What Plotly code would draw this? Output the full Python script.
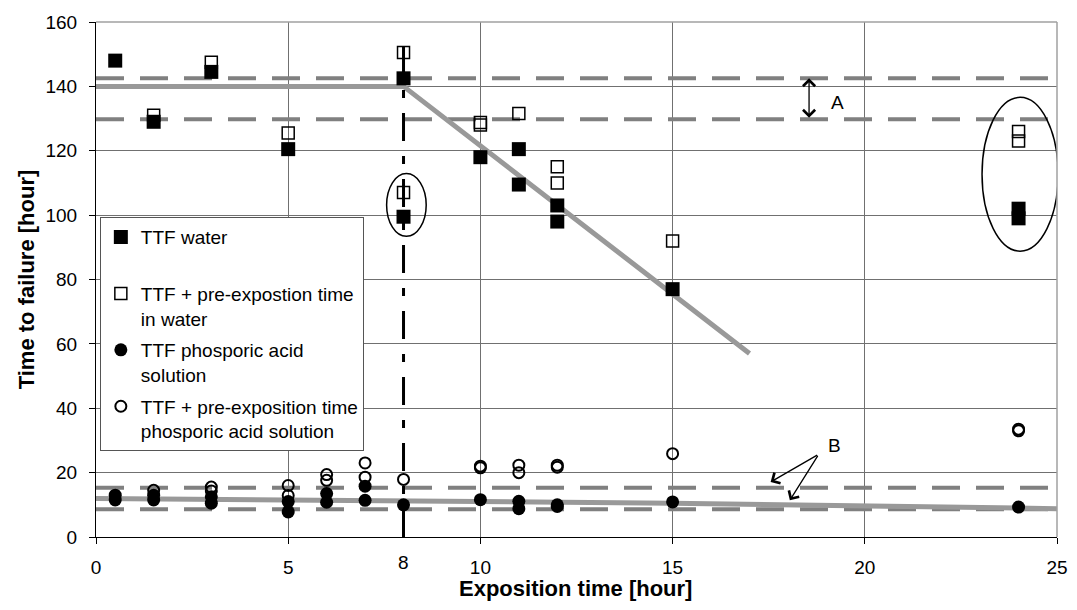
import plotly.graph_objects as go

# ---------------- data ----------------
water_x = [0.5, 1.5, 3, 5, 8, 8, 10, 11, 11, 12, 12, 15, 24, 24]
water_y = [148, 129, 144.5, 120.5, 142.5, 99.5, 118, 120.5, 109.5, 103, 98, 77, 102, 99]

prew_x = [1.5, 3, 5, 8, 8, 10, 10, 11, 12, 12, 15, 24, 24]
prew_y = [131, 147.5, 125.5, 150.5, 107, 128, 128.8, 131.6, 115, 110, 92, 126, 123]

acid_x = [0.5, 0.5, 1.5, 1.5, 3, 3, 5, 5, 6, 6, 7, 7, 8, 10, 11, 11, 12, 12, 15, 24]
acid_y = [13, 11.5, 13, 11.5, 12.5, 10.5, 11, 7.8, 13.5, 10.8, 15.8, 11.4, 10, 11.6, 11.1, 8.8, 10, 9.5, 10.9, 9.3]

preacid_x = [1.5, 3, 3, 5, 5, 6, 6, 7, 7, 8, 10, 10, 11, 11, 12, 12, 15, 24, 24]
preacid_y = [14.5, 15.5, 14.3, 16, 12.9, 19.4, 17.6, 23, 18.6, 17.9, 21.5, 22, 22.3, 20, 22.3, 21.7, 25.9, 33, 33.5]

fit_water_x = [0, 8, 17]
fit_water_y = [140, 140, 57]
fit_acid_x = [0, 8, 15, 25]
fit_acid_y = [12, 11, 10.5, 8.8]

band_a = [142.5, 129.8]
band_b = [15.3, 8.6]
band_x = [0, 25]

vline_x = [8, 8]
vline_y = [0, 155]

x_ticks = [0, 5, 10, 15, 20, 25]
y_ticks = [0, 20, 40, 60, 80, 100, 120, 140, 160]

names = ["TTF water<br>\u00a0",
         "TTF + pre-expostion time<br>in water",
         "TTF phosporic acid<br>solution",
         "TTF + pre-exposition time<br>phosporic acid solution"]

FONT = "Arial, Liberation Sans, sans-serif"

fig = go.Figure()

# band dashed lines
for yv in band_a + band_b:
    fig.add_trace(go.Scatter(x=band_x, y=[yv, yv], mode="lines",
                             line=dict(color="#808080", width=4, dash="28px,16px"),
                             showlegend=False, hoverinfo="skip"))
# trend lines
fig.add_trace(go.Scatter(x=fit_water_x, y=fit_water_y, mode="lines",
                         line=dict(color="#999999", width=5), showlegend=False))
fig.add_trace(go.Scatter(x=fit_acid_x, y=fit_acid_y, mode="lines",
                         line=dict(color="#999999", width=5), showlegend=False))
# vertical dash-dot line
fig.add_trace(go.Scatter(x=vline_x, y=vline_y, mode="lines",
                         line=dict(color="black", width=3, dash="28px,15px,8px,15px"),
                         showlegend=False))

# open markers first
fig.add_trace(go.Scatter(x=prew_x, y=prew_y, mode="markers", name=names[1],
                         legendrank=2, legendgroup="b",
                         marker=dict(symbol="square-open", size=12, color="black",
                                     line=dict(width=1.5))))
fig.add_trace(go.Scatter(x=preacid_x, y=preacid_y, mode="markers", name=names[3],
                         legendrank=4, legendgroup="d",
                         marker=dict(symbol="circle-open", size=11, color="black",
                                     line=dict(width=2))))
fig.add_trace(go.Scatter(x=water_x, y=water_y, mode="markers", name=names[0],
                         legendrank=1, legendgroup="a",
                         marker=dict(symbol="square", size=14, color="black")))
fig.add_trace(go.Scatter(x=acid_x, y=acid_y, mode="markers", name=names[2],
                         legendrank=3, legendgroup="c",
                         marker=dict(symbol="circle", size=13, color="black")))

# ellipses
fig.add_shape(type="circle", xref="x", yref="y", x0=7.56, x1=8.59, y0=93.4, y1=112.9,
              line=dict(color="black", width=1.5))
fig.add_shape(type="circle", xref="x", yref="y", x0=23.05, x1=25.03, y0=88.8, y1=136.6,
              line=dict(color="black", width=1.5))
# top / right border
fig.add_shape(type="line", xref="paper", yref="paper", x0=0, x1=1, y0=1, y1=1,
              line=dict(color="#a0a0a0", width=1.5))
fig.add_shape(type="line", xref="paper", yref="paper", x0=1, x1=1, y0=0, y1=1,
              line=dict(color="#a0a0a0", width=1.5))

# arrows
fig.add_annotation(x=18.55, y=142.5, ax=18.55, ay=129.8, xref="x", yref="y",
                   axref="x", ayref="y", text="", showarrow=True,
                   arrowside="end+start", arrowhead=4, startarrowhead=4,
                   arrowwidth=1.3, arrowsize=1.8, startarrowsize=1.8,
                   arrowcolor="black", standoff=0, startstandoff=0)
fig.add_annotation(x=19.3, y=135, xref="x", yref="y", text="A", showarrow=False,
                   font=dict(size=19, color="black", family=FONT))
for hx, hy in [(17.55, 17.1), (18.05, 11.4)]:
    fig.add_annotation(x=hx, y=hy, ax=18.8, ay=25.7, xref="x", yref="y",
                       axref="x", ayref="y", text="", showarrow=True,
                       arrowhead=4, arrowwidth=1.3, arrowsize=1.8,
                       arrowcolor="black", standoff=0)
fig.add_annotation(x=19.2, y=28.5, xref="x", yref="y", text="B", showarrow=False,
                   font=dict(size=19, color="black", family=FONT))
# special tick label "8"
fig.add_annotation(x=8, y=0, xref="x", yref="paper", yanchor="top", yshift=-13,
                   text="8", showarrow=False,
                   font=dict(size=19, color="black", family=FONT))
# x-axis title
fig.add_annotation(x=0.4987, y=-0.0996, xref="paper", yref="paper",
                   xanchor="center", yanchor="middle", showarrow=False,
                   text="<b>Exposition time [hour]</b>",
                   font=dict(size=22, color="black", family=FONT))

fig.update_layout(
    width=1061, height=594,
    margin=dict(l=88, r=11.5, t=13.5, b=65.3),
    plot_bgcolor="white", paper_bgcolor="white",
    font=dict(family=FONT, color="black", size=19),
    legend=dict(x=0.004, y=0.621, xanchor="left", yanchor="top",
                bgcolor="white", bordercolor="#555555", borderwidth=1,
                font=dict(size=19, family=FONT, color="black"),
                valign="top", tracegroupgap=4, traceorder="grouped"),
    xaxis=dict(range=[0, 25], tickvals=x_ticks, showgrid=True, gridcolor="#707070",
               gridwidth=1, showline=True, linecolor="black", linewidth=1,
               ticks="outside", ticklen=6, tickcolor="black", zeroline=False,
               ticklabelstandoff=7, automargin=False,
               tickfont=dict(size=19)),
    yaxis=dict(range=[0, 160], tickvals=y_ticks, showgrid=True, gridcolor="#707070",
               gridwidth=1, showline=True, linecolor="black", linewidth=1,
               ticks="outside", ticklen=6, tickcolor="black", zeroline=False,
               ticklabelstandoff=8, automargin=False,
               tickfont=dict(size=19),
               title=dict(text="<b>Time to failure [hour]</b>", font=dict(size=22),
                          standoff=4)),
)

fig.write_html("out.html")
